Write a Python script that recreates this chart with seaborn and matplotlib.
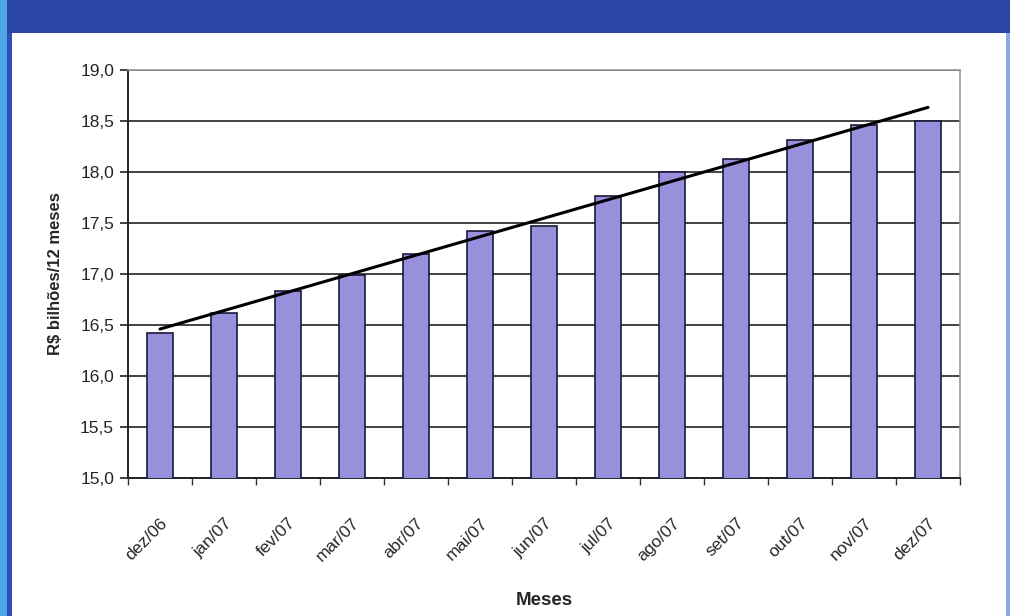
import numpy as np
import pandas as pd
import matplotlib
matplotlib.use("Agg")
import matplotlib.pyplot as plt
import seaborn as sns
from matplotlib.patches import Rectangle
from matplotlib.ticker import FuncFormatter, MultipleLocator, FixedLocator

# Dados (R$ bilhões acumulados em 12 meses)
meses = ["dez/06", "jan/07", "fev/07", "mar/07", "abr/07", "mai/07", "jun/07",
         "jul/07", "ago/07", "set/07", "out/07", "nov/07", "dez/07"]
valores = [16.42, 16.62, 16.83, 16.99, 17.20, 17.42, 17.47,
           17.76, 18.00, 18.13, 18.31, 18.46, 18.50]

df = pd.DataFrame({"mes": meses, "valor": valores})
df["pos"] = np.arange(len(df))

sns.set_style("white")
plt.rcParams["font.family"] = ["Liberation Sans", "DejaVu Sans"]

fig = plt.figure(figsize=(10.1, 6.16), dpi=100)

# moldura azul (faixa superior e bordas laterais)
fig.patches.append(Rectangle((0, 0), 1, 1, transform=fig.transFigure,
                             facecolor="white", edgecolor="none", zorder=-3))
fig.patches.append(Rectangle((0, 1 - 33 / 616), 1, 33 / 616, transform=fig.transFigure,
                             facecolor="#2a45a6", edgecolor="none", zorder=-1))
fig.patches.append(Rectangle((0, 0), 7 / 1010, 1, transform=fig.transFigure,
                             facecolor="#4da6e6", edgecolor="none", zorder=-1))
fig.patches.append(Rectangle((7 / 1010, 0), 5 / 1010, 1 - 33 / 616, transform=fig.transFigure,
                             facecolor="#2f4fb5", edgecolor="none", zorder=-1))
fig.patches.append(Rectangle((1006 / 1010, 0), 4 / 1010, 1 - 33 / 616, transform=fig.transFigure,
                             facecolor="#8fa6e0", edgecolor="none", zorder=-1))

ax = fig.add_axes([128 / 1010, 1 - 478 / 616, 832 / 1010, 408 / 616])

sns.barplot(data=df, x="pos", y="valor", color="#9990dd", width=0.4,
            edgecolor="#1a1a3a", linewidth=1.2, saturation=1, ax=ax, zorder=3)

# linha de tendência linear
sns.regplot(data=df, x="pos", y="valor", scatter=False, ci=None, truncate=True,
            line_kws={"color": "black", "linewidth": 2.2, "zorder": 4}, ax=ax)

ax.set_xlim(-0.5, len(meses) - 0.5)
ax.set_ylim(15, 19)
ax.yaxis.set_major_locator(MultipleLocator(0.5))
ax.yaxis.set_major_formatter(FuncFormatter(lambda v, p: f"{v:.1f}".replace(".", ",")))
ax.grid(axis="y", color="#222222", linewidth=1.2, zorder=0)
ax.grid(axis="x", visible=False)

ax.set_xticks(df["pos"])
ax.set_xticklabels(meses, rotation=45, ha="right", rotation_mode="anchor", fontsize=12.5)
ax.xaxis.set_minor_locator(FixedLocator(np.arange(-0.5, len(meses), 1)))
ax.tick_params(axis="x", which="major", length=0, pad=27)
ax.tick_params(axis="x", which="minor", length=5, width=1, color="#333333", direction="out", bottom=True)
ax.tick_params(axis="y", length=6, width=1.2, color="#222222", direction="out", left=True, labelsize=12.5, pad=4)

for s in ["top", "right"]:
    ax.spines[s].set_color("#999999")
    ax.spines[s].set_linewidth(1.2)
for s in ["left", "bottom"]:
    ax.spines[s].set_color("#222222")
    ax.spines[s].set_linewidth(1.4)

ax.set_xlabel("Meses", fontsize=13.5, fontweight="bold", labelpad=20)
ax.set_ylabel("R$ bilhões/12 meses", fontsize=12, fontweight="bold", labelpad=12)

fig.savefig("out.png", dpi=100)
